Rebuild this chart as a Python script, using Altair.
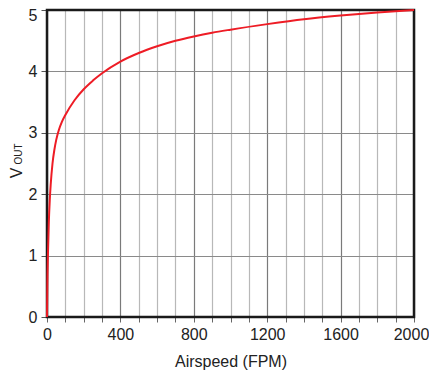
import altair as alt
import pandas as pd

# Curve
airspeed = [0, 2, 5, 10, 15, 20, 30, 40, 50, 65, 80, 100, 150, 200, 250, 300,
            400, 500, 600, 700, 800, 900, 1000, 1200, 1400, 1600, 1800, 2000]
vout = [0, 0.55, 1.0, 1.55, 1.9, 2.15, 2.5, 2.72, 2.88, 3.05, 3.17, 3.29, 3.53, 3.71,
        3.85, 3.97, 4.16, 4.30, 4.41, 4.50, 4.57, 4.63, 4.68, 4.77, 4.85, 4.91, 4.96, 5.0]

x_ticks = list(range(0, 2001, 100))
y_ticks = [0, 1, 2, 3, 4, 5]
x_domain = [0, 2000]
y_domain = [0, 5]

df = pd.DataFrame({"airspeed": airspeed, "vout": vout})
frame_df = pd.DataFrame({"airspeed": [x_domain[0]], "x1": [x_domain[1]],
                         "vout": [y_domain[0]], "y1": [y_domain[1]]})

FONT = "Liberation Sans"
W, H = 367, 307

xscale = alt.Scale(domain=x_domain, nice=False, zero=False)
yscale = alt.Scale(domain=y_domain, nice=False)

xaxis = alt.Axis(
    values=x_ticks, title="Airspeed (FPM)", format="d",
    labelExpr="datum.value % 400 === 0 ? datum.label : ''",
    grid=True,
    gridColor={"condition": {"test": "datum.value % 400 === 0", "value": "#7a7a7a"},
               "value": "#b8b8b8"},
    gridWidth=1.2, domain=False, tickColor="#666", tickSize=5, tickWidth=1,
    labelPadding=4, labelFontSize=16, labelFont=FONT, labelColor="#222",
    titleFont=FONT, titleFontSize=16, titleFontWeight="normal", titleColor="#222",
    titlePadding=11, labelFlush=False, labelOverlap=False,
    labelOffset={"condition": {"test": "datum.value === 2000", "value": -3}, "value": 0},
)
yaxis = alt.Axis(
    values=y_ticks, title=None, format="d", grid=True, gridColor="#8a8a8a", gridWidth=1.2,
    domain=False, tickColor="#555", tickSize=6, tickWidth=1, labelPadding=4,
    labelFontSize=16, labelFont=FONT, labelColor="#222", labelFlush=False,
    labelOffset={"condition": {"test": "datum.value === 5", "value": 5}, "value": 0},
)

X = alt.X("airspeed:Q", scale=xscale, axis=xaxis)
Y = alt.Y("vout:Q", scale=yscale, axis=yaxis)

frame = alt.Chart(frame_df).mark_rect(fill=None, stroke="#1a1a1a", strokeWidth=2.5).encode(
    x=X, x2="x1:Q", y=Y, y2="y1:Q",
)

curve = alt.Chart(df).mark_line(color="#ee1c25", strokeWidth=2, interpolate="monotone").encode(
    x=X, y=Y,
)

title_v = alt.Chart(pd.DataFrame({"t": ["V"]})).mark_text(
    angle=270, align="center", baseline="alphabetic", font=FONT, fontSize=16, color="#222"
).encode(text="t:N", x=alt.value(-25), y=alt.value(163))

title_out = alt.Chart(pd.DataFrame({"t": ["OUT"]})).mark_text(
    angle=270, align="center", baseline="alphabetic", font=FONT, fontSize=10, color="#222"
).encode(text="t:N", x=alt.value(-25), y=alt.value(144))

chart = alt.layer(frame, curve, title_v, title_out).properties(
    width=W, height=H,
    autosize=alt.AutoSizeParams(type="none"),
    padding={"left": 39, "top": 2, "right": 15, "bottom": 53},
).configure_view(stroke=None)

chart.save("out.html", embed_options={"renderer": "svg", "actions": False})
